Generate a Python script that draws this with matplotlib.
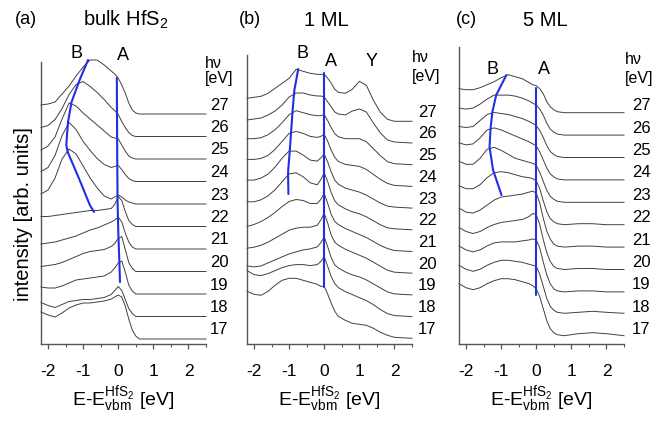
import numpy as np
import matplotlib
matplotlib.use('Agg')
import matplotlib.pyplot as plt

plt.rcParams['font.family'] = ['Liberation Sans', 'DejaVu Sans']
plt.rcParams['mathtext.fontset'] = 'custom'
plt.rcParams['mathtext.rm'] = 'Liberation Sans'
plt.rcParams['mathtext.it'] = 'Liberation Sans:italic'

# ---------------- data ----------------
hv = [27, 26, 25, 24, 23, 22, 21, 20, 19, 18, 17]

energy_bulk = [-2.2, -2.0, -1.8, -1.6, -1.4, -1.2, -1.0, -0.8, -0.6, -0.4, -0.2, -0.1,
               0.0, 0.1, 0.2, 0.3, 0.4, 0.5, 0.6, 0.8, 1.2, 1.6, 2.0, 2.5]
bulk_I = [
    [9, 10, 12, 20, 28, 38, 47, 54, 54, 49, 43, 40, 36, 29, 21, 11, 4, 1, 0, 0, 0, 0, 0, 0],
    [9, 11, 17, 28, 42, 52, 55, 50, 44, 37, 29, 26, 22, 15, 9, 4, 1, 0, 0, 0, 0, 0, 0, 0],
    [9, 13, 22, 40, 56, 53, 46, 40, 34, 28, 22, 21, 20, 14, 8, 3, 1, 0, 0, 0, 0, 0, 0, 0],
    [10, 14, 26, 46, 59, 52, 40, 31, 23, 17, 14, 15, 16, 12, 7, 3, 1, 0, 0, 0, 0, 0, 0, 0],
    [10, 14, 26, 45, 55, 50, 38, 26, 16, 8, 5, 7, 9, 7, 4, 2, 1, 0, 0, 0, 0, 0, 0, 0],
    [10, 10, 11, 12, 13, 14, 15, 16, 16, 17, 18, 22, 30, 26, 15, 6, 2, 0, 0, 0, 0, 0, 0, 0],
    [5, 6, 7, 9, 11, 13, 16, 19, 21, 24, 27, 29, 32, 27, 16, 7, 2, 0, 0, 0, 0, 0, 0, 0],
    [5, 6, 7, 9, 12, 15, 18, 20, 21, 22, 25, 28, 33, 35, 22, 9, 3, 0, 0, 0, 0, 0, 0, 0],
    [7, 6, 6, 8, 11, 14, 15, 16, 17, 18, 22, 26, 31, 33, 22, 9, 3, 0, 0, 0, 0, 0, 0, 0],
    [14, 11, 9, 12, 15, 16, 17, 17, 18, 19, 22, 26, 30, 26, 17, 8, 3, 0, 0, 0, 0, 0, 0, 0],
    [27, 24, 22, 26, 31, 34, 36, 36, 37, 38, 40, 42, 44, 42, 33, 20, 9, 3, 0, 0, 0, 0, 0, 0],
]

energy_1ml = [-2.2, -2.0, -1.8, -1.6, -1.4, -1.2, -1.0, -0.8, -0.6, -0.4, -0.2, -0.1,
              0.0, 0.1, 0.2, 0.3, 0.4, 0.6, 0.8, 1.0, 1.2, 1.4, 1.6, 1.8, 2.0, 2.5]
ml1_I = [
    [23, 24, 25, 28, 33, 38, 43, 52, 50, 48, 47, 47, 47, 43, 38, 32, 29, 28, 32, 40, 36, 21, 9, 2, 0, 0],
    [23, 24, 25, 28, 32, 38, 46, 50, 50, 48, 47, 47, 46, 41, 36, 31, 29, 28, 32, 34, 31, 20, 10, 3, 1, 0],
    [26, 26, 27, 30, 35, 42, 50, 54, 52, 50, 49, 49, 50, 44, 37, 31, 28, 26, 26, 26, 23, 16, 9, 3, 1, 0],
    [27, 27, 28, 31, 37, 45, 53, 55, 53, 50, 49, 50, 52, 45, 36, 29, 25, 22, 21, 20, 17, 12, 7, 3, 1, 0],
    [28, 28, 30, 34, 41, 50, 57, 57, 53, 48, 47, 50, 54, 46, 36, 28, 24, 20, 18, 16, 13, 9, 5, 2, 1, 0],
    [28, 28, 30, 34, 40, 48, 56, 57, 53, 47, 45, 50, 57, 48, 37, 29, 25, 21, 18, 16, 13, 9, 5, 2, 1, 0],
    [25, 27, 30, 34, 39, 45, 50, 52, 51, 48, 48, 52, 58, 48, 37, 30, 27, 23, 20, 17, 14, 10, 6, 3, 1, 0],
    [25, 26, 28, 31, 35, 39, 43, 45, 46, 46, 48, 53, 60, 50, 38, 31, 28, 24, 21, 18, 15, 11, 7, 3, 1, 0],
    [29, 28, 29, 32, 35, 38, 41, 43, 45, 46, 48, 52, 58, 48, 37, 30, 27, 23, 20, 18, 15, 11, 7, 3, 1, 0],
    [46, 42, 41, 43, 46, 49, 51, 52, 52, 51, 52, 55, 60, 50, 40, 33, 29, 25, 22, 19, 16, 12, 7, 3, 1, 0],
    [47, 44, 43, 47, 53, 58, 60, 60, 58, 56, 54, 52, 52, 44, 35, 27, 22, 18, 15, 14, 13, 10, 6, 3, 1, 0],
]

energy_5ml = [-2.2, -2.0, -1.8, -1.6, -1.4, -1.2, -1.0, -0.8, -0.6, -0.4, -0.2, -0.1,
              0.0, 0.1, 0.2, 0.3, 0.4, 0.5, 0.6, 0.8, 1.2, 1.6, 2.0, 2.5]
ml5_I = [
    [24, 23, 23, 25, 28, 31, 35, 38, 36, 34, 30, 28, 27, 24, 19, 11, 6, 3, 1, 0, 0, 0, 0, 0],
    [27, 26, 27, 31, 36, 40, 40, 40, 39, 37, 34, 32, 30, 26, 20, 12, 6, 3, 1, 0, 0, 0, 0, 0],
    [31, 30, 31, 37, 43, 45, 44, 43, 41, 39, 36, 34, 32, 27, 20, 12, 6, 3, 1, 0, 0, 0, 0, 0],
    [37, 35, 36, 42, 50, 52, 50, 47, 44, 41, 38, 36, 34, 28, 20, 12, 6, 3, 1, 0, 0, 0, 0, 0],
    [41, 38, 38, 44, 53, 55, 52, 48, 44, 42, 40, 39, 37, 30, 21, 12, 6, 3, 1, 0, 0, 0, 0, 0],
    [39, 36, 36, 40, 47, 52, 53, 52, 50, 48, 47, 46, 44, 36, 24, 13, 6, 3, 1, 0, 1, 1, 0, 0],
    [39, 35, 34, 37, 42, 47, 50, 51, 52, 53, 55, 56, 54, 44, 29, 16, 8, 3, 1, 0, 1, 1, 0, 0],
    [42, 38, 36, 38, 42, 45, 47, 48, 49, 50, 53, 56, 55, 45, 30, 17, 8, 3, 1, 0, 1, 1, 0, 0],
    [46, 42, 40, 42, 46, 49, 50, 50, 50, 51, 52, 53, 52, 44, 30, 17, 8, 3, 1, 0, 1, 1, 0, 0],
    [49, 45, 43, 45, 49, 52, 54, 54, 53, 52, 50, 49, 48, 40, 28, 16, 8, 4, 2, 1, 2, 3, 2, 1],
    [53, 49, 47, 49, 53, 56, 58, 58, 57, 55, 53, 51, 48, 40, 28, 16, 8, 4, 2, 1, 3, 4, 3, 1],
]

# peak-tracking lines (energy, intensity on the stacked scale)
bulk_B_E = [-0.86, -1.10, -1.33, -1.43, -1.48, -1.44, -1.10, -0.81, -0.69]
bulk_B_y = [284, 264, 242, 222, 199, 192, 164, 139, 132]
bulk_A_E = [-0.04, -0.03, -0.02, 0.00, 0.03, 0.05]
bulk_A_y = [266, 194, 144, 114, 84, 62]

ml1_B_E = [-0.74, -0.85, -0.90, -0.94, -0.98, -1.03, -1.02]
ml1_B_y = [275, 254, 234, 214, 194, 172, 150]
ml1_A_E = [-0.02, -0.02]
ml1_A_y = [271, 57]

ml5_B_E = [-0.85, -1.14, -1.25, -1.30, -1.33, -1.23, -0.99]
ml5_B_y = [269, 249, 232, 216, 197, 174, 149]
ml5_A_E = [-0.02, -0.02]
ml5_A_y = [256, 49]

# ---------------- layout ----------------
W, H = 669, 421
fig = plt.figure(figsize=(W / 100, H / 100), dpi=100)
AX_BOTTOM = 344
CURVE_C = '#404040'
BLUE = '#1f2fe6'


def ftext(x, y, s, **kw):
    fig.text(x / W, 1 - y / H, s, **kw)


def make_panel(left, right, top, E, spectra, base, step, Bx, By, Ax, Ay, lab_dx, lab_dy):
    ax = fig.add_axes([left / W, (H - AX_BOTTOM) / H, (right - left) / W, (AX_BOTTOM - 20) / H])
    ax.set_xlim(-2.2, 2.5)
    ax.set_ylim(0, AX_BOTTOM - 20)
    for s in ['top', 'right']:
        ax.spines[s].set_visible(False)
    ax.spines['left'].set_bounds(0, AX_BOTTOM - top)
    for s in ['left', 'bottom']:
        ax.spines[s].set_color('#555555')
        ax.spines[s].set_linewidth(1.0)
    ax.set_yticks([])
    ax.set_xticks([-2, -1, 0, 1, 2])
    ax.set_xticklabels(['-2', '-1', '0', '1', '2'])
    ax.set_xticks([-1.5, -0.5, 0.5, 1.5, 2.5], minor=True)
    ax.tick_params(axis='x', which='major', direction='out', length=3.5, width=0.9,
                   color='#555555', labelsize=12.5, pad=11)
    ax.tick_params(axis='x', which='minor', direction='out', length=2, width=0.8, color='#555555')
    for i, (h, I) in enumerate(zip(hv, spectra)):
        off = base + step * (len(hv) - 1 - i)
        ax.plot(E, np.asarray(I) + off, color=CURVE_C, lw=0.7, clip_on=False)
        ax.text(2.5 + lab_dx, off + lab_dy, str(h), ha='left', va='center', fontsize=12)
    ax.plot(Bx, By, color=BLUE, lw=1.5, clip_on=False, solid_capstyle='round')
    ax.plot(Ax, Ay, color=BLUE, lw=1.5, clip_on=False, solid_capstyle='round')
    ax.set_xlabel(r'E-E$_{\mathrm{vbm}}^{\mathrm{HfS_2}}$ [eV]', fontsize=14, labelpad=4)
    return ax


make_panel(41, 206, 62, energy_bulk, bulk_I, 5, 22.5, bulk_B_E, bulk_B_y, bulk_A_E, bulk_A_y, 0.12, 9)
make_panel(247, 412, 55, energy_1ml, ml1_I, 5.7, 21.7, ml1_B_E, ml1_B_y, ml1_A_E, ml1_A_y, 0.17, 9)
make_panel(459, 624, 47, energy_5ml, ml5_I, 7.3, 22.4, ml5_B_E, ml5_B_y, ml5_A_E, ml5_A_y, 0.23, 7)

# titles and annotations
ftext(26, 20, '(a)', ha='center', va='center', fontsize=13)
ftext(126, 20, r'bulk HfS$_2$', ha='center', va='center', fontsize=14.5)
ftext(250, 20, '(b)', ha='center', va='center', fontsize=13)
ftext(326, 20, '1 ML', ha='center', va='center', fontsize=14.5)
ftext(466, 20, '(c)', ha='center', va='center', fontsize=13)
ftext(545, 20, '5 ML', ha='center', va='center', fontsize=14.5)

ftext(76, 53, 'B', ha='center', va='center', fontsize=13)
ftext(123, 56, 'A', ha='center', va='center', fontsize=13)
ftext(302, 54, 'B', ha='center', va='center', fontsize=13)
ftext(331, 61, 'A', ha='center', va='center', fontsize=13)
ftext(372, 61, 'Y', ha='center', va='center', fontsize=13)
ftext(493, 70, 'B', ha='center', va='center', fontsize=13)
ftext(544, 70, 'A', ha='center', va='center', fontsize=13)

for x0, y0, y1 in [(205, 63, 79), (412, 57, 76), (625, 59, 78)]:
    ftext(x0, y0, 'h\u03bd', ha='left', va='center', fontsize=11.5)
    ftext(x0, y1, '[eV]', ha='left', va='center', fontsize=11.5)

ftext(24, 214, 'intensity [arb. units]', ha='center', va='center', rotation=90, fontsize=14.5)

fig.savefig('out.png', dpi=100)
